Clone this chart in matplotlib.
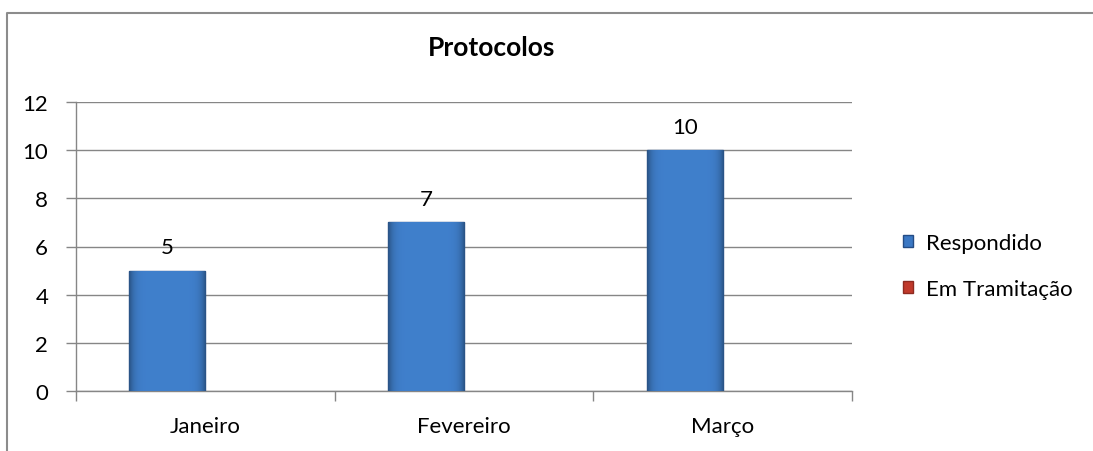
import matplotlib.pyplot as plt
import matplotlib.patches as mpatches
from matplotlib.lines import Line2D
import numpy as np

plt.rcParams['font.family'] = ['Lato', 'DejaVu Sans']

# data
meses = ['Janeiro', 'Fevereiro', 'Março']
respondido = [5, 7, 10]
em_tramitacao = [0, 0, 0]
series_names = ['Respondido', 'Em Tramitação']
yticks = [0, 2, 4, 6, 8, 10, 12]

blue = '#3B78C4'
red = '#C0392B'
grid_col = '#868686'
fs = 16

fig = plt.figure(figsize=(10.93, 4.52), dpi=100)
ax = fig.add_axes([76 / 1093, 60 / 452, 776 / 1093, 289 / 452])

x = np.arange(len(meses))
w = 0.294

# horizontal gradient to mimic the bevelled Excel bars
g = np.linspace(-1, 1, 80)
shade = 1 - 0.35 * np.abs(g) ** 8
base = np.array([0.25, 0.50, 0.80])
grad = np.clip(base[None, None, :] * shade[None, :, None], 0, 1)

bars = ax.bar(x - w / 2, respondido, w, color=blue, edgecolor='#244C85', linewidth=1.0, zorder=3)
ax.bar(x + w / 2, em_tramitacao, w, color=red, zorder=3)
for b in bars:
    x0, y0 = b.get_x(), b.get_y()
    im = ax.imshow(grad, extent=[x0, x0 + b.get_width(), y0, y0 + b.get_height()],
                   aspect='auto', zorder=3.5, interpolation='bicubic')
    im.set_clip_path(b)
for xi, v in zip(x, respondido):
    ax.text(xi - w / 2, v + 0.55, str(v), ha='center', va='bottom', fontsize=fs, color='black')

ax.set_xlim(-0.5, len(meses) - 0.5)
ax.set_ylim(0, 12)
ax.set_yticks(yticks)
ax.set_xticks(x)
ax.set_xticklabels(meses)
ax.set_xticks(np.arange(len(meses) + 1) - 0.5, minor=True)
ax.tick_params(axis='x', which='major', length=0, pad=18, labelsize=fs)
ax.tick_params(axis='x', which='minor', length=7, color=grid_col, width=1)
ax.tick_params(axis='y', length=7, color=grid_col, width=1, pad=13, labelsize=fs)

ax.grid(axis='y', color=grid_col, linewidth=1, zorder=0)
ax.set_axisbelow(True)
for s in ['top', 'right']:
    ax.spines[s].set_visible(False)
for s in ['left', 'bottom']:
    ax.spines[s].set_color(grid_col)
    ax.spines[s].set_linewidth(1)

fig.text(492 / 1093, 1 - 48 / 452, 'Protocolos', ha='center', va='center',
         fontsize=19, fontweight='bold')

handles = [mpatches.Patch(facecolor=blue, edgecolor='#244C85'),
           mpatches.Patch(facecolor=red, edgecolor='#8E2A20')]
fig.legend(handles, series_names, loc='center left', bbox_to_anchor=(892 / 1093, 1 - 267 / 452),
           frameon=False, fontsize=fs, handlelength=0.45, handleheight=0.45,
           handletextpad=0.6, labelspacing=1.15, borderpad=0)

# outer chart border (top and left visible)
fig.add_artist(Line2D([7 / 1093, 7 / 1093, 1.0], [0.0, 1 - 14 / 452, 1 - 14 / 452],
                      color='#8C8C8C', linewidth=1.5, transform=fig.transFigure))

fig.savefig('out.png', dpi=100)
